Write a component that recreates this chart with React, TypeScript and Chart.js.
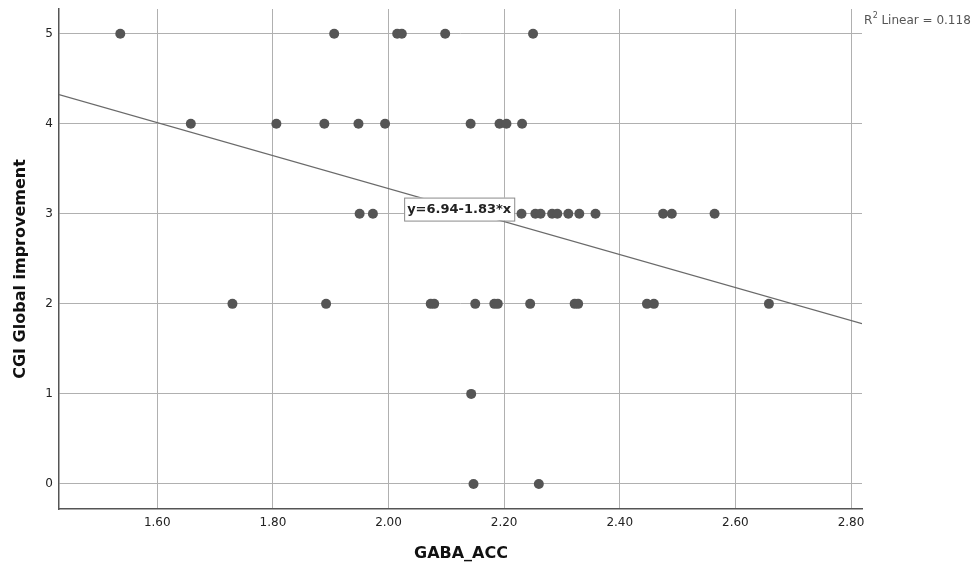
import React, { useEffect, useRef } from "react";
import { Chart, registerables } from "chart.js";

Chart.register(...registerables);

// Data
const GABA_ACC_5 = [1.536, 1.906, 2.015, 2.023, 2.098, 2.25];
const GABA_ACC_4 = [1.658, 1.806, 1.889, 1.948, 1.994, 2.142, 2.192, 2.204, 2.231];
const GABA_ACC_3 = [1.95, 1.973, 2.23, 2.254, 2.263, 2.283, 2.292, 2.311, 2.33, 2.358, 2.475, 2.49, 2.564];
const GABA_ACC_2 = [1.73, 1.892, 2.073, 2.079, 2.15, 2.183, 2.189, 2.245, 2.322, 2.328, 2.447, 2.459, 2.658];
const GABA_ACC_1 = [2.143];
const GABA_ACC_0 = [2.147, 2.26];
const CGI_LEVELS = [5, 4, 3, 2, 1, 0];

const X_TICKS = [1.6, 1.8, 2.0, 2.2, 2.4, 2.6, 2.8];
const Y_TICKS = [0, 1, 2, 3, 4, 5];
const X_MIN = 1.43;
const X_MAX = 2.819;
const Y_MIN = -0.278;
const Y_MAX = 5.274;

const FIT_INTERCEPT = 6.94;
const FIT_SLOPE = -1.83;
const FIT_LABEL = "y=6.94-1.83*x";
const R2_TEXT = "0.118";
const X_TITLE = "GABA_ACC";
const Y_TITLE = "CGI Global improvement";

const groups = [GABA_ACC_5, GABA_ACC_4, GABA_ACC_3, GABA_ACC_2, GABA_ACC_1, GABA_ACC_0];
const points = groups.flatMap((g, i) => g.map((x) => ({ x, y: CGI_LEVELS[i] })));

const annotations = {
  id: "annotations",
  afterDraw(chart: any) {
    const ctx = chart.ctx;
    const xs = chart.scales.x;
    const ys = chart.scales.y;
    ctx.save();
    // equation label box
    ctx.font = "bold 13px 'DejaVu Sans'";
    const tw = ctx.measureText(FIT_LABEL).width;
    const bx = xs.getPixelForValue(2.027);
    const by = ys.getPixelForValue(3.18);
    const bw = tw + 6;
    const bh = 23;
    ctx.fillStyle = "#ffffff";
    ctx.fillRect(bx, by, bw, bh);
    ctx.strokeStyle = "#8a8a8a";
    ctx.lineWidth = 1;
    ctx.strokeRect(bx + 0.5, by + 0.5, bw, bh);
    ctx.fillStyle = "#222";
    ctx.textBaseline = "middle";
    ctx.textAlign = "left";
    ctx.fillText(FIT_LABEL, bx + 3, by + bh / 2 + 1);

    // R² label
    ctx.fillStyle = "#555";
    ctx.font = "12px 'DejaVu Sans'";
    ctx.textBaseline = "alphabetic";
    let x = 864;
    const y = 24;
    ctx.fillText("R", x, y);
    x += ctx.measureText("R").width;
    ctx.font = "8px 'DejaVu Sans'";
    ctx.fillText("2", x + 0.5, y - 6);
    x += ctx.measureText("2").width + 4;
    ctx.font = "12px 'DejaVu Sans'";
    ctx.fillText("Linear = " + R2_TEXT, x, y);

    // axis titles
    ctx.fillStyle = "#111";
    ctx.font = "bold 16px 'DejaVu Sans'";
    ctx.textAlign = "center";
    ctx.textBaseline = "middle";
    ctx.fillText(X_TITLE, 461, 554);
    ctx.translate(21, 269);
    ctx.rotate(-Math.PI / 2);
    ctx.fillText(Y_TITLE, 0, 0);
    ctx.restore();
  },
};

export default function App() {
  const ref = useRef<HTMLCanvasElement | null>(null);
  useEffect(() => {
    if (!ref.current) return;
    const chart = new Chart(ref.current, {
      type: "scatter",
      data: {
        datasets: [
          {
            type: "line" as any,
            data: [
              { x: X_MIN, y: FIT_INTERCEPT + FIT_SLOPE * X_MIN },
              { x: X_MAX, y: FIT_INTERCEPT + FIT_SLOPE * X_MAX },
            ],
            borderColor: "#6a6a6a",
            borderWidth: 1.2,
            pointRadius: 0,
            fill: false,
            order: 2,
          },
          {
            data: points,
            backgroundColor: "#555555",
            borderWidth: 0,
            pointRadius: 5,
            order: 1,
          },
        ],
      },
      plugins: [annotations],
      options: {
        animation: false,
        responsive: true,
        maintainAspectRatio: false,
        layout: { padding: { left: 0, right: 115, top: 9, bottom: 0 } },
        plugins: { legend: { display: false }, tooltip: { enabled: false } },
        scales: {
          x: {
            type: "linear",
            min: X_MIN,
            max: X_MAX,
            afterBuildTicks: (s: any) => {
              s.ticks = X_TICKS.map((v) => ({ value: v }));
            },
            afterFit: (s: any) => {
              s.height = 59;
              s.paddingLeft = 0;
              s.paddingRight = 0;
            },
            ticks: {
              padding: 7,
              color: "#222",
              font: { family: "DejaVu Sans", size: 12 },
              callback: (v: any) => Number(v).toFixed(2),
              maxRotation: 0,
            },
            grid: { color: "#b0b0b0", lineWidth: 1, drawTicks: false },
            border: { display: true, color: "#555", width: 1.5 },
          },
          y: {
            type: "linear",
            min: Y_MIN,
            max: Y_MAX,
            afterBuildTicks: (s: any) => {
              s.ticks = Y_TICKS.map((v) => ({ value: v }));
            },
            afterFit: (s: any) => {
              s.width = 59;
              s.paddingTop = 0;
              s.paddingBottom = 0;
            },
            ticks: {
              padding: 6,
              color: "#222",
              font: { family: "DejaVu Sans", size: 12 },
              callback: (v: any) => String(v),
            },
            grid: { color: "#b0b0b0", lineWidth: 1, drawTicks: false },
            border: { display: true, color: "#555", width: 1.5 },
          },
        },
      },
    });
    return () => chart.destroy();
  }, []);
  return (
    <div style={{ position: "fixed", left: 0, top: 0, width: 977, height: 568, background: "#fff" }}>
      <canvas ref={ref} />
    </div>
  );
}
